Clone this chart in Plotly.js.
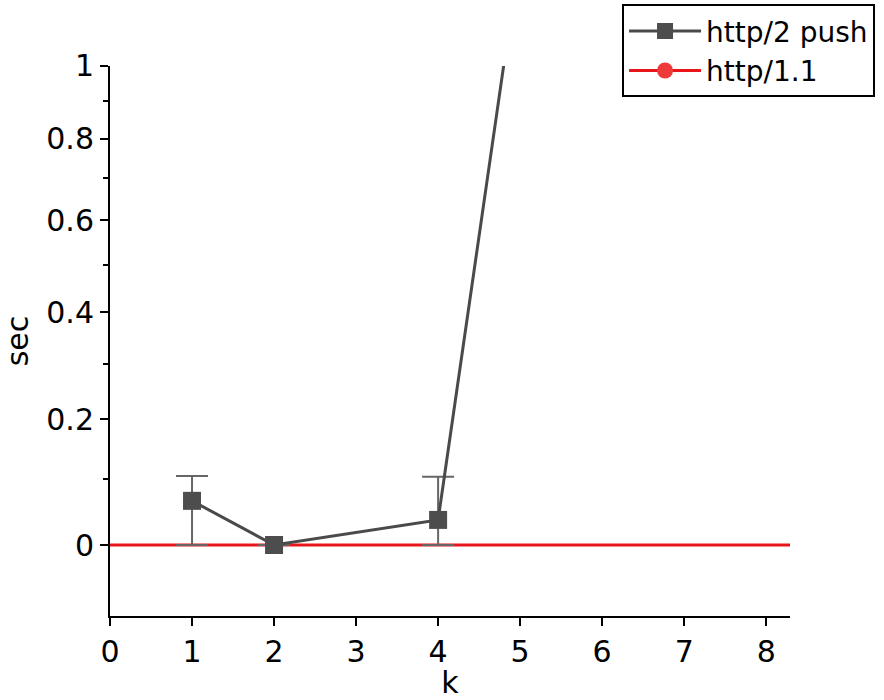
<!DOCTYPE html>
<html>
<head>
<meta charset="utf-8">
<script src="https://cdn.plot.ly/plotly-3.0.1.min.js"></script>
<style>html,body{margin:0;padding:0;background:#fff}#chart{width:884px;height:700px}</style>
</head>
<body>
<div id="chart"></div>
<script>
// ---- data ----
var kPush = [1, 2, 4, 5];
var secPush = [0.066, 0, 0.037, 1.36];
var errUpPush = [0.039, 0, 0.067, 0];
var errDownPush = [0.066, 0, 0.037, 0];

var kHttp11 = [-1, 10];
var secHttp11 = [0, 0];

var yMajorTicks = [0, 0.2, 0.4, 0.6, 0.8, 1];
var yMajorLabels = ['0', '0.2', '0.4', '0.6', '0.8', '1'];
var yMinorTicks = [-0.1, 0.1, 0.3, 0.5, 0.7, 0.9];
var xTicks = [0, 1, 2, 3, 4, 5, 6, 7, 8];

// y axis of the reference is scaled as log10(1 + y)
function t(v) { return Math.log10(1 + v); }

var yPushT = secPush.map(t);
var upT = secPush.map(function (v, i) { return t(v + errUpPush[i]) - t(v); });
var downT = secPush.map(function (v, i) { return t(v) - t(v - errDownPush[i]); });

var FONT = 'DejaVu Sans, Arial, sans-serif';

var traces = [
  {
    name: 'http/1.1',
    x: kHttp11, y: secHttp11.map(t),
    mode: 'lines+markers',
    line: { color: '#e8161b', width: 3 },
    marker: { symbol: 'circle', size: 16, color: '#ef3a3a' },
    cliponaxis: true
  },
  {
    name: 'http/2 push',
    x: kPush, y: yPushT,
    mode: 'lines+markers',
    line: { color: '#4a4a4a', width: 3 },
    marker: { symbol: 'square', size: 18, color: '#4d4d4d' },
    error_y: { type: 'data', symmetric: false, array: upT, arrayminus: downT,
               color: '#666666', thickness: 2, width: 16 },
    cliponaxis: true
  }
];

var layout = {
  width: 884, height: 700,
  margin: { l: 110, r: 94, t: 66, b: 84, autoexpand: false },
  paper_bgcolor: '#ffffff', plot_bgcolor: '#ffffff',
  font: { family: FONT, size: 30, color: '#000' },
  showlegend: true,
  legend: {
    x: 0.753, y: 1.112, xanchor: 'left', yanchor: 'top',
    bordercolor: '#000', borderwidth: 2, bgcolor: '#fff',
    traceorder: 'reversed', itemwidth: 72,
    font: { family: FONT, size: 28, color: '#000' },
    tracegroupgap: 0
  },
  xaxis: {
    range: [0, 8.29],
    tickmode: 'array', tickvals: xTicks, ticktext: xTicks.map(String),
    showline: true, linecolor: '#000', linewidth: 2,
    ticks: 'outside', ticklen: 8, tickwidth: 2, tickcolor: '#000',
    showgrid: false, zeroline: false,
    tickfont: { family: FONT, size: 30, color: '#000' },
    title: { text: 'k', font: { family: FONT, size: 30, color: '#000' }, standoff: 22 }
  },
  yaxis: {
    range: [-0.0446, 0.301],
    tickmode: 'array', tickvals: yMajorTicks.map(t), ticktext: yMajorLabels,
    showline: true, linecolor: '#000', linewidth: 2,
    ticks: 'outside', ticklen: 8, tickwidth: 2, tickcolor: '#000',
    showgrid: false, zeroline: false,
    tickfont: { family: FONT, size: 30, color: '#000' },
    minor: { tickmode: 'array', tickvals: yMinorTicks.map(t), ticks: 'outside',
             ticklen: 5, tickwidth: 2, tickcolor: '#000', showgrid: false },
    title: { text: 'sec', font: { family: FONT, size: 30, color: '#000' }, standoff: 10 }
  }
};

Plotly.newPlot('chart', traces, layout, { displayModeBar: false, staticPlot: true });
</script>
</body>
</html>
